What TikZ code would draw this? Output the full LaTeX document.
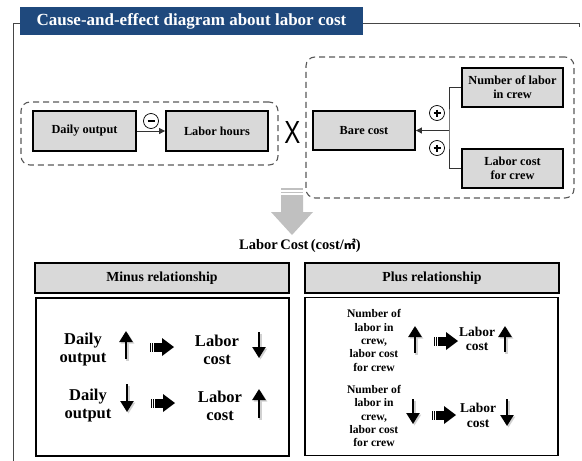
\documentclass[tikz,border=0pt]{standalone}
\usepackage{fontspec}
\setmainfont{Liberation Serif}
\newfontfamily\cjkfont{Noto Sans CJK SC}
\newfontfamily\sansx{Liberation Sans}
\usetikzlibrary{arrows.meta,calc}
\definecolor{titleblue}{RGB}{31,73,125}
\definecolor{boxgray}{RGB}{217,217,217}
\definecolor{arrowgray}{RGB}{192,192,192}
\definecolor{framegray}{RGB}{70,70,70}
\begin{document}
\begin{tikzpicture}[x=1pt,y=-1pt,
  framel/.style={draw=framegray, line width=1pt},
  graybox/.style={draw=black, line width=1.8pt, fill=boxgray, align=center, inner sep=0pt,
    font=\fontsize{12.3}{14}\selectfont\bfseries},
  headbox/.style={draw=black, line width=1.8pt, fill=boxgray, inner sep=0pt,
    minimum width=254pt, minimum height=30pt, font=\fontsize{13.8}{15}\selectfont\bfseries},
  contentbox/.style={draw=black, line width=1.8pt, fill=white, inner sep=0pt,
    minimum width=253pt, minimum height=158pt},
  dashbox/.style={draw=black!65, dash pattern=on 6pt off 4pt, line width=1.1pt, rounded corners=9pt, inner sep=0pt},
  signc/.style={circle, draw=black, line width=0.7pt, fill=white, minimum width=15pt, minimum height=13pt, inner sep=0pt},
  conn/.style={draw=black!80, line width=0.8pt},
  bigtxt/.style={align=center, font=\fontsize{16.5}{18}\selectfont\bfseries},
  smalltxt/.style={align=center, font=\fontsize{11.6}{13.3}\selectfont\bfseries},
  medtxt/.style={align=center, font=\fontsize{13.5}{14.5}\selectfont\bfseries},
  varr/.style={line width=2.4pt, -{Triangle[width=13pt 0,length=11pt 0]}},
  vshadow/.style={line width=2.4pt, draw=black!18, -{Triangle[width=13pt 0,length=11pt 0]}},
  fatarr/.pic={
    \fill[black] (0,-4.5) rectangle (9,4.5);
    \fill[black] (8,-9) -- (20,0) -- (8,9) -- cycle;
    \fill[black] (-4.5,-4.5) rectangle (-3.3,4.5);
    \fill[black] (-2.3,-4.5) rectangle (-1,4.5);
  }
]
\useasboundingbox (0,0) rectangle (582,461);

% frame
\draw[framel] (20,23) -- (13,23) -- (13,461);
\draw[framel] (363,23) -- (579,23) -- (579,27);

% title
\node[fill=titleblue, minimum width=343pt, minimum height=28pt, inner sep=0pt,
  text=white, font=\fontsize{17}{19}\selectfont\bfseries] (title) at (191.5,21)
  {Cause-and-effect diagram about labor cost};

% left group
\node[dashbox, minimum width=257pt, minimum height=63pt] (grpL) at (149.5,133.5) {};
\node[graybox, minimum width=103pt, minimum height=40pt] (daily) at (84.5,131) {Daily output};
\node[graybox, minimum width=102pt, minimum height=40pt] (hours) at (217,131) {Labor hours};
\draw[conn, -{Triangle[width=6pt,length=6pt]}] (daily.east) -- (hours.west);
\node[signc] (minus) at (151,121) {};
\draw[line width=2pt] ($(minus.center)+(-3.5,0)$) -- ($(minus.center)+(3.5,0)$);

% times sign
\node[font=\sansx\fontsize{32}{32}\selectfont, inner sep=0pt] (times) at (292.5,132) {\scalebox{0.75}[1]{X}};

% right group
\node[dashbox, minimum width=268pt, minimum height=141pt] (grpR) at (440,127.5) {};
\node[graybox, minimum width=102pt, minimum height=39pt] (bare) at (364,130.5) {Bare cost};
\node[graybox, minimum width=101pt, minimum height=39pt] (numlab) at (512.5,87.5) {Number of labor\\in crew};
\node[graybox, minimum width=101pt, minimum height=39pt] (lcrew) at (512.5,168.5) {Labor cost\\for crew};
\coordinate (jt) at (449,130.5);
\draw[conn] (numlab.west) -| (jt) |- (lcrew.west);
\draw[conn, -{Triangle[width=6pt,length=6pt]}] (jt) -- (bare.east);
\node[signc] (plusA) at (437,113) {};
\node[signc] (plusB) at (437,148) {};
\foreach \p in {plusA,plusB}{
  \draw[line width=1.8pt] ($(\p.center)+(-3.5,0)$) -- ($(\p.center)+(3.5,0)$);
  \draw[line width=1.8pt] ($(\p.center)+(0,-3.5)$) -- ($(\p.center)+(0,3.5)$);
}

% big down arrow
\fill[arrowgray] (281,188) rectangle (303,189.5);
\fill[arrowgray] (281,191.5) rectangle (303,193);
\fill[arrowgray] (281,195) -- (303,195) -- (303,212) -- (313,212) -- (292,235) -- (271,212) -- (281,212) -- cycle;

\node[font=\fontsize{14.5}{16}\selectfont\bfseries, inner sep=0pt] (lcost) at (300,246)
  {Labor\,Cost\,(cost/{\cjkfont\fontsize{12}{14}\selectfont ㎡})};

% headers
\node[headbox] (minush) at (162,278) {Minus relationship};
\node[headbox] (plush) at (432,278) {Plus relationship};

% content boxes
\node[contentbox] (minusc) at (162.5,377) {};
\node[contentbox] (plusc) at (431.5,376.5) {};

% minus content
\node[bigtxt] (d1) at (83,350) {Daily\\output};
\node[bigtxt] (l1) at (217,350) {Labor\\cost};
\node[bigtxt] (d2) at (88,405.5) {Daily\\output};
\node[bigtxt] (l2) at (220,405.5) {Labor\\cost};
\draw[vshadow] (127.5,360.5) -- (127.5,332.5);
\draw[varr] (126,359) -- (126,331);
\draw[vshadow] (260.5,333.5) -- (260.5,359.5);
\draw[varr] (259,332) -- (259,358);
\draw[vshadow] (128.5,385.5) -- (128.5,413.5);
\draw[varr] (127,384) -- (127,412);
\draw[vshadow] (260.5,419.5) -- (260.5,390.5);
\draw[varr] (259,418) -- (259,389);
\pic at (154,347) {fatarr};
\pic at (155,403) {fatarr};

% plus content
\node[smalltxt] (n1) at (374,340.5) {Number of\\labor in\\crew,\\labor cost\\for crew};
\node[smalltxt] (n2) at (374,416) {Number of\\labor in\\crew,\\labor cost\\for crew};
\node[medtxt] (pl1) at (477,339) {Labor\\cost};
\node[medtxt] (pl2) at (478,415.5) {Labor\\cost};
\draw[vshadow] (416.5,354.5) -- (416.5,327.5);
\draw[varr] (415,353) -- (415,326);
\draw[vshadow] (506.5,353.5) -- (506.5,327.5);
\draw[varr] (505,352) -- (505,326);
\draw[vshadow] (414.5,400.5) -- (414.5,425.5);
\draw[varr] (413,399) -- (413,424);
\draw[vshadow] (508.5,400.5) -- (508.5,427.5);
\draw[varr] (507,399) -- (507,426);
\pic at (438,341) {fatarr};
\pic at (436,415) {fatarr};
\end{tikzpicture}
\end{document}
